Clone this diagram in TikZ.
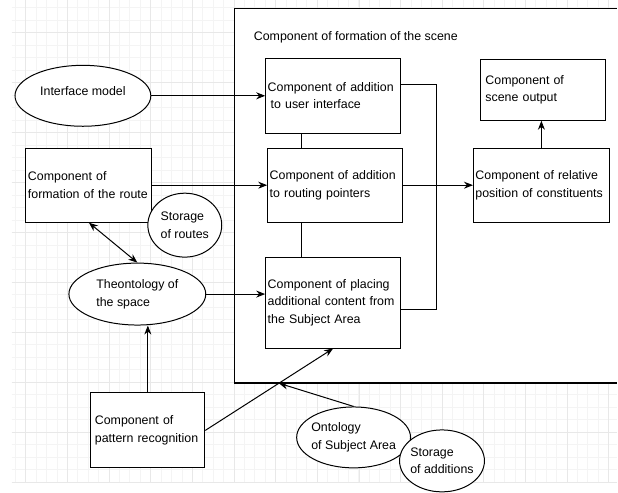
\documentclass[tikz,border=0pt]{standalone}
\usepackage{fontspec}
\setmainfont{Liberation Sans}
\usetikzlibrary{arrows.meta,calc,shapes.geometric}

\begin{document}
\begin{tikzpicture}[x=1pt,y=-1pt,
  font=\fontsize{12.4}{17.5}\selectfont,
  box/.style={draw, line width=1pt, fill=white, align=left, inner xsep=2pt, inner ysep=0pt},
  oval/.style={draw, ellipse, line width=1pt, fill=white, align=left, inner sep=0pt},
  link/.style={line width=1pt},
  arr/.style={link, -{Stealth[length=9pt,width=7pt]}},
  gridminor/.style={gray!9, line width=0.8pt},
  gridmajor/.style={gray!18, line width=0.8pt}]

% Page background and grid
\fill[white] (0,0) rectangle (618,492);
\foreach \n in {1,...,58}
  \draw[gridminor] ({5.0+10.42*\n},0) -- ({5.0+10.42*\n},482.3);
\foreach \n in {0,...,38}
  \draw[gridminor] (12,{7.3+12.5*\n}) -- (618,{7.3+12.5*\n});
\foreach \n in {0,...,14}
  \draw[gridmajor] ({25.9+41.68*\n},0) -- ({25.9+41.68*\n},482.3);
\foreach \n in {0,...,9}
  \draw[gridmajor] (12,{32.3+50*\n}) -- (618,{32.3+50*\n});

% Scene formation frame (runs off the right edge)
\fill[white] (235,8) rectangle (618,383);
\draw[line width=1.4pt] (235,8) -- (618,8);
\draw[line width=1.4pt] (235,8) -- (235,383) -- (618,383);
\node[anchor=west, inner sep=0pt] (title) at (254,37) {Component of formation of the scene};

% Boxes inside the frame
\node[box, text width=131pt, minimum height=75pt] (ui) at (333.5,95.5)
  {Component of addition\\\hspace{3pt}to user interface};
\node[box, text width=131pt, minimum height=74pt] (route) at (335.5,185)
  {Component of addition\\to routing pointers};
\node[box, text width=131pt, minimum height=91pt] (place) at (333.5,302.5)
  {Component of placing\\additional content from\\the Subject Area};
\node[box, inner xsep=5pt, text width=115pt, minimum height=61pt] (output) at (543.5,89.5)
  {Component of\\scene output};
\node[box, text width=132pt, minimum height=74pt] (relpos) at (542,185)
  {Component of relative\\position of constituents};

% Boxes outside the frame
\node[box, text width=122pt, minimum height=74pt] (routeform) at (89,185)
  {Component of\\formation of the route};
\node[box, inner xsep=4pt, text width=106pt, minimum height=75pt] (pattern) at (148,430.5)
  {Component of\\pattern recognition};

% Ellipses
\node[oval, text depth=10pt, minimum width=136pt, minimum height=61pt] (iface) at (83,95.5) {Interface model};
\node[oval, minimum width=74pt, minimum height=64pt] (stroutes) at (185,225) {Storage\\of routes};
\node[oval, minimum width=137pt, minimum height=62pt] (space) at (137.5,294) {Theontology of\\the space};
\node[oval, inner xsep=-3pt, minimum width=114pt, minimum height=61pt] (ontsa) at (354,437.5) {Ontology\\of Subject Area};
\node[oval, inner xsep=-3pt, minimum width=85pt, minimum height=62pt] (stradd) at (442.5,461) {Storage\\of additions};

% Helper points
\coordinate (spine) at (302,200);
\coordinate (bt) at (437,84);
\coordinate (bb) at (437,309);

% Links inside the frame
\draw[link] (ui.south -| spine) -- (route.north -| spine);
\draw[link] (route.south -| spine) -- (place.north -| spine);
\draw[link] (bt -| ui.east) -- (bt) -- (bb) -- (bb -| place.east);
\draw[arr] (route.east) -- (relpos.west);
\draw[arr] (relpos.north) -- (relpos.north |- output.south);

% Links from outside
\draw[arr] (iface.east) -- (ui.west);
\draw[arr] (routeform.east) -- (route.west);
\draw[arr] (space.east) -- (space.east -| place.west);
\draw[link, {Stealth[length=9pt,width=7pt]}-{Stealth[length=9pt,width=7pt]}] (routeform.south) -- (space.north);
\draw[arr] (pattern.north) -- (pattern.north |- space.south);
\draw[arr] (pattern.east) -- (place.south);

% Ontology points at the crossing on the frame
\coordinate (cross) at ($(pattern.east)!0.576!(place.south)$);
\draw[arr] (ontsa.north) -- (cross);

\useasboundingbox (0,0) rectangle (618,492);
\end{tikzpicture}
\end{document}
